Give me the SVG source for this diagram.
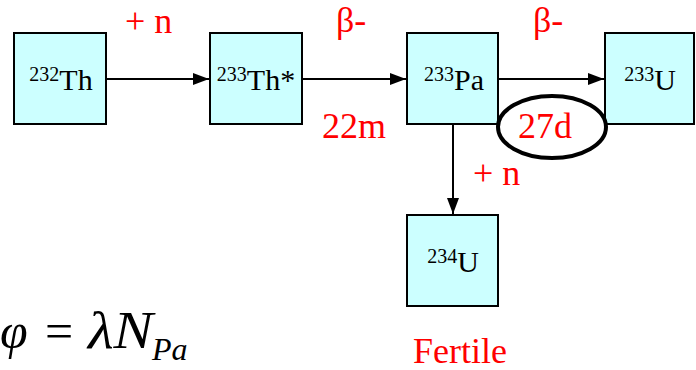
<svg xmlns="http://www.w3.org/2000/svg" width="696" height="370" viewBox="0 0 696 370">
<style>
.box{fill:#ccffff;stroke:#000;stroke-width:2}
.conn{stroke:#000;stroke-width:2;fill:none}
</style>
<defs>
<marker id="ah" markerWidth="16" markerHeight="12" refX="16" refY="6" orient="auto" markerUnits="userSpaceOnUse">
<path d="M0,0 L16,6 L0,12 Z" fill="#000"/>
</marker>
</defs>
<rect width="696" height="370" fill="#fff"/>
<g id="connectors">
<line class="conn" x1="106" y1="79" x2="209" y2="79" marker-end="url(#ah)"/>
<line class="conn" x1="302" y1="79" x2="406" y2="79" marker-end="url(#ah)"/>
<line class="conn" x1="498" y1="79" x2="604" y2="79" marker-end="url(#ah)"/>
<line class="conn" x1="453" y1="124" x2="453" y2="214" marker-end="url(#ah)"/>
</g>
<g id="th232">
<rect class="box" x="14" y="33" width="92" height="91"/>
<text x="61" y="90" font-family="'Liberation Serif', serif" font-size="30" text-anchor="middle"><tspan font-size="20" dy="-9">232</tspan><tspan dy="9">Th</tspan></text>
</g>
<g id="th233">
<rect class="box" x="210" y="33" width="92" height="91"/>
<text x="256" y="90" font-family="'Liberation Serif', serif" font-size="30" text-anchor="middle"><tspan font-size="20" dy="-9">233</tspan><tspan dy="9">Th*</tspan></text>
</g>
<g id="pa233">
<rect class="box" x="407" y="33" width="91" height="91"/>
<text x="454" y="90" font-family="'Liberation Serif', serif" font-size="30" text-anchor="middle"><tspan font-size="20" dy="-9">233</tspan><tspan dy="9">Pa</tspan></text>
</g>
<g id="u233">
<rect class="box" x="605" y="33" width="89" height="91"/>
<text x="650" y="90" font-family="'Liberation Serif', serif" font-size="30" text-anchor="middle"><tspan font-size="20" dy="-9">233</tspan><tspan dy="9">U</tspan></text>
</g>
<g id="u234">
<rect class="box" x="407" y="215" width="91" height="91"/>
<text x="453" y="272" font-family="'Liberation Serif', serif" font-size="30" text-anchor="middle"><tspan font-size="20" dy="-9">234</tspan><tspan dy="9">U</tspan></text>
</g>
<g id="labels" fill="#ff0000" font-size="36">
<text x="125" y="33" font-family="'Liberation Serif', serif">+ n</text>
<text x="336" y="32" font-family="'Liberation Serif', serif">β-</text>
<text x="533" y="32" font-family="'Liberation Serif', serif">β-</text>
<text x="322" y="138" font-family="'Liberation Serif', serif">22m</text>
<text x="518" y="138" font-family="'Liberation Serif', serif">27d</text>
<ellipse cx="552" cy="127" rx="54" ry="31" fill="none" stroke="#000" stroke-width="4"/>
<text x="473" y="185" font-family="'Liberation Serif', serif">+ n</text>
<text x="413" y="363" font-family="'Liberation Serif', serif">Fertile</text>
</g>
<g id="formula">
<text x="0" y="348" font-family="'Liberation Serif', serif" font-style="italic" font-size="50">φ</text>
<text x="45" y="348" font-family="'Liberation Serif', serif" font-size="50">=</text>
<text x="88" y="348" font-family="'Liberation Serif', serif" font-style="italic" font-size="52" textLength="65" lengthAdjust="spacingAndGlyphs">λN</text>
<text x="152" y="360" font-family="'Liberation Serif', serif" font-style="italic" font-size="32">Pa</text>
</g>
</svg>
